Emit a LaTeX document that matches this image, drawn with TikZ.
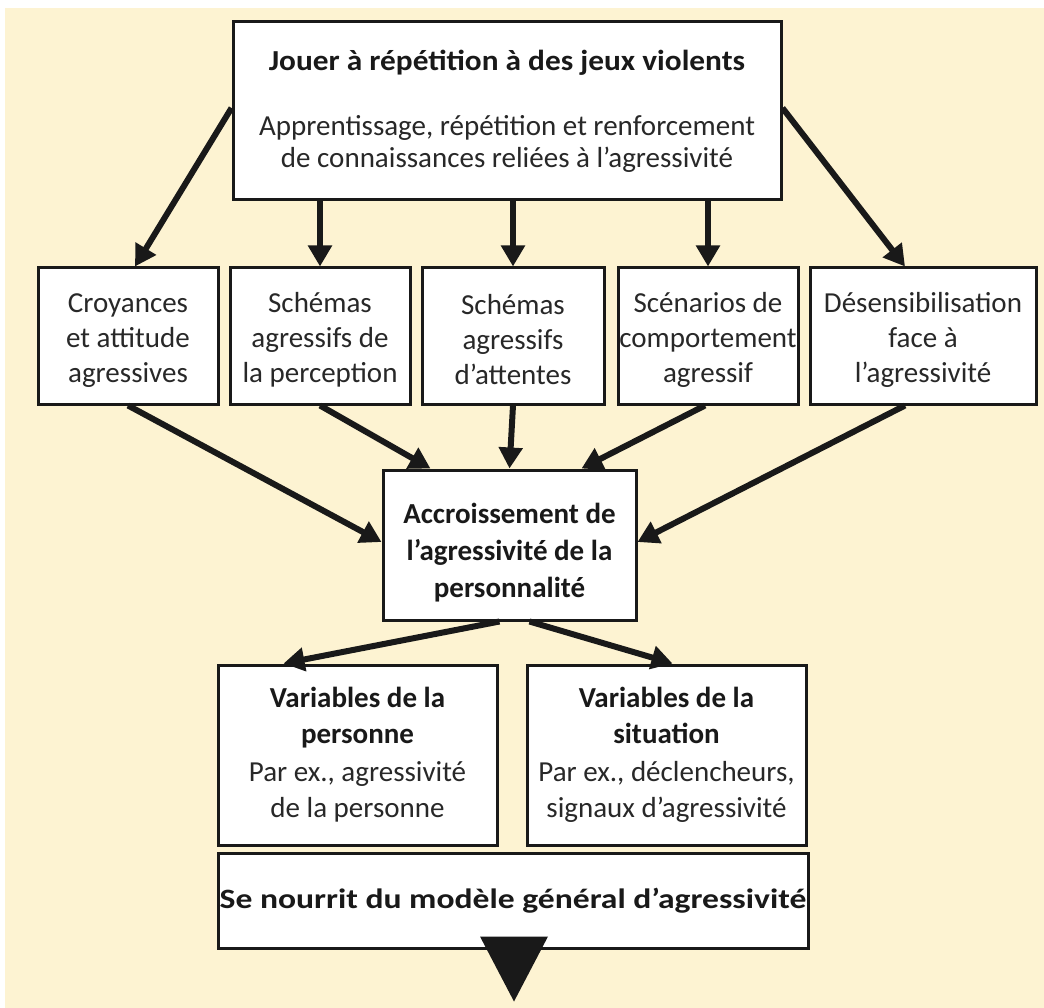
\documentclass[tikz,border=0pt]{standalone}
\usepackage{fontspec}
\setmainfont{Carlito}
\newfontfamily\widefont[FakeStretch=1.2]{Carlito}
\newfontfamily\semiwide[FakeStretch=1.08]{Carlito}
\usetikzlibrary{arrows.meta,calc}
\definecolor{bgyellow}{RGB}{253,243,210}
\definecolor{ink}{RGB}{25,25,25}
\definecolor{txt}{RGB}{40,40,40}
\begin{document}
\begin{tikzpicture}[x=1pt,y=-1pt,
  box/.style={draw=ink,line width=3pt,fill=white,align=center,text=txt,inner sep=0pt,
    font=\fontsize{29}{35}\selectfont},
  arr/.style={draw=ink,line width=6pt,-{Triangle[length=21pt,width=23pt]}}]
\useasboundingbox (0,0) rectangle (1044,1008);
\fill[white] (0,0) rectangle (1044,1008);
\fill[bgyellow] (5,8) rectangle (1044,1008);

\node[box,minimum width=548pt,minimum height=178pt] (top) at (507,111)
 {{\semiwide\bfseries\color{ink}Jouer à répétition à des jeux violents}\\[30pt]
  Apprentissage, répétition et renforcement\\[-3pt]
  de connaissances reliées à l’agressivité};

\node[box,minimum width=180pt,minimum height=136pt] (b1) at (128,336)
 {\rule{0pt}{27pt}Croyances\\et attitude\\agressives};
\node[box,minimum width=180pt,minimum height=136pt] (b2) at (320,336)
 {\rule{0pt}{27pt}Schémas\\agressifs de\\la perception};
\node[box,minimum width=182pt,minimum height=136pt] (b3) at (513,336)
 {\rule{0pt}{27pt}Schémas\\agressifs\\d’attentes};
\node[box,minimum width=180pt,minimum height=136pt] (b4) at (708,336)
 {\rule{0pt}{27pt}Scénarios de\\comportement\\agressif};
\node[box,minimum width=226pt,minimum height=136pt] (b5) at (923,336)
 {\rule{0pt}{27pt}Désensibilisation\\face à\\l’agressivité};

\node[box,minimum width=253pt,minimum height=150pt,text=ink,font=\fontsize{29}{37}\selectfont\bfseries] (acc) at (509.5,545)
 {\rule{0pt}{36pt}Accroissement de\\l’agressivité de la\\personnalité};

\node[box,minimum width=279pt,minimum height=180pt,font=\fontsize{29}{36}\selectfont] (v1) at (357.5,755)
 {{\bfseries\color{ink}Variables de la}\\{\bfseries\color{ink}personne}\\[2pt]Par ex., agressivité\\de la personne};
\node[box,minimum width=279pt,minimum height=180pt,font=\fontsize{29}{36}\selectfont] (v2) at (666.5,755)
 {{\bfseries\color{ink}Variables de la}\\{\bfseries\color{ink}situation}\\[2pt]Par ex., déclencheurs,\\signaux d’agressivité};

\node[box,minimum width=590pt,minimum height=95pt,text=ink,font=\fontsize{28}{34}\widefont\bfseries] (sn) at (513,900.5)
 {\rule{0pt}{20pt}Se nourrit du modèle général d’agressivité};

% arrows from top
\draw[arr] ([yshift=3pt]top.west) -- ([xshift=7pt]b1.north);
\draw[arr] (b2.north |- top.south) -- (b2.north);
\draw[arr] (b3.north |- top.south) -- (b3.north);
\draw[arr] (b4.north |- top.south) -- (b4.north);
\draw[arr] ([yshift=3pt]top.east) -- ([xshift=-18pt]b5.north);

% arrows into acc
\draw[arr] (b1.south) -- ([yshift=3pt]acc.west);
\draw[arr] (b2.south) -- ([xshift=49pt]acc.north west);
\draw[arr] (b3.south) -- (acc.north);
\draw[arr] ([xshift=-3pt]b4.south) -- ([xshift=-56pt]acc.north east);
\draw[arr] ([xshift=-18pt]b5.south) -- ([yshift=3pt]acc.east);

% arrows down
\draw[arr] ([xshift=-10pt]acc.south) -- ([xshift=-74pt]v1.north);
\draw[arr] ([xshift=20pt]acc.south) -- ([xshift=6pt]v2.north);

% triangle
\fill[ink] ($(sn.south)+(-33,-13)$) -- ($(sn.south)+(35,-13)$) -- ($(sn.south)+(1,52)$) -- cycle;
\end{tikzpicture}
\end{document}
